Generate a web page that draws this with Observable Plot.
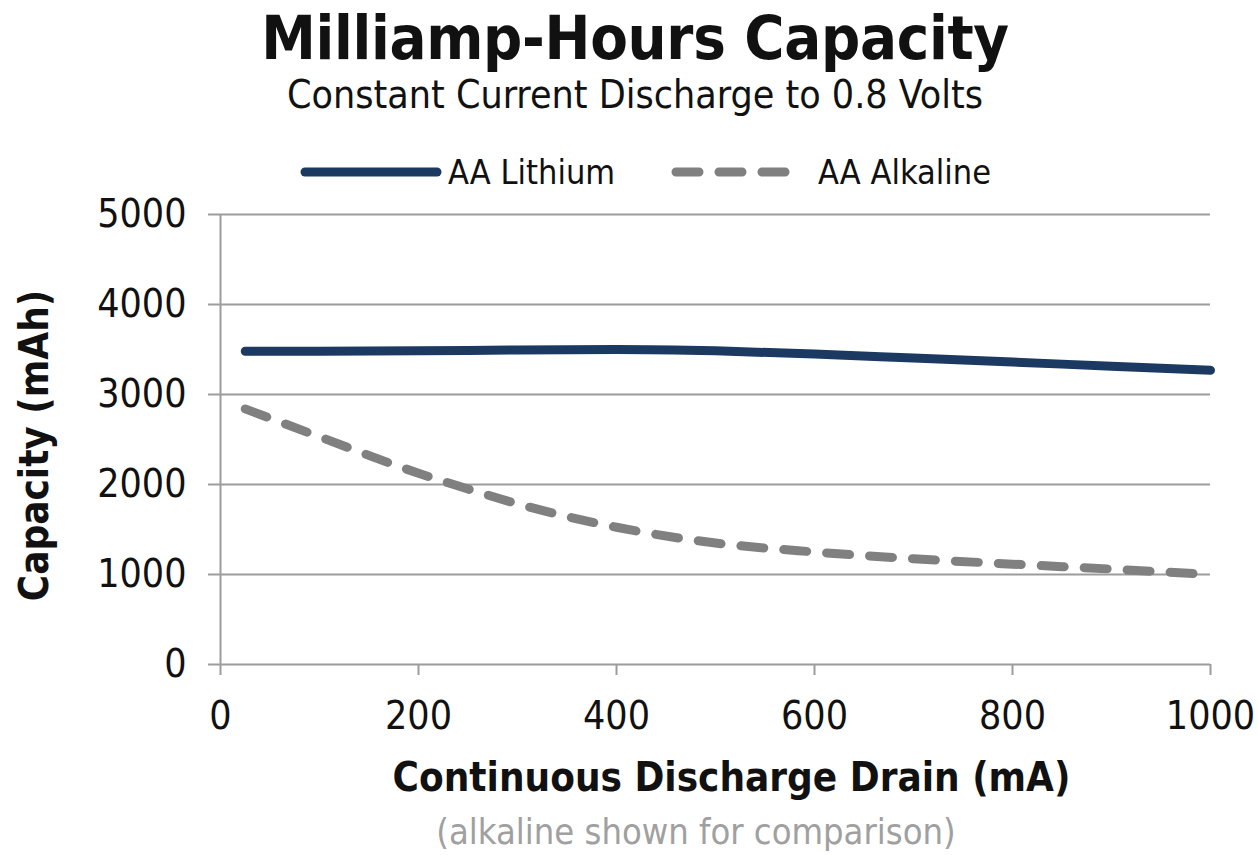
<!DOCTYPE html>
<html>
<head>
<meta charset="utf-8">
<script src="https://cdn.jsdelivr.net/npm/d3@7"></script>
<script src="https://cdn.jsdelivr.net/npm/@observablehq/plot@0.6"></script>
<style>
  html, body { margin: 0; padding: 0; background: #fff; }
  #wrap { position: relative; width: 1258px; height: 855px; overflow: hidden;
          font-family: "DejaVu Sans Condensed", "DejaVu Sans", sans-serif; font-stretch: condensed; color: #111; }
  .abs { position: absolute; white-space: nowrap; }
  #title { left: 6px; width: 1258px; top: 2px; text-align: center; font-weight: bold; font-size: 61px; line-height: 72px; letter-spacing: -0.3px; }
  #subtitle { left: 6px; width: 1258px; top: 72px; text-align: center; font-size: 39px; line-height: 46px; }
  .legtext { font-size: 34px; line-height: 40px; top: 152px; }
  #chart { left: 0; top: 200px; }
  #caption { left: 0; width: 1392px; top: 811px; text-align: center; font-size: 36px; line-height: 42px; color: #a0a0a0; }
</style>
</head>
<body>
<div id="wrap">
  <div id="title" class="abs">Milliamp-Hours Capacity</div>
  <div id="subtitle" class="abs">Constant Current Discharge to 0.8 Volts</div>
  <svg class="abs" style="left:296px;top:160px" width="150" height="24"><line x1="9" y1="12" x2="141" y2="12" stroke="#1c3962" stroke-width="9" stroke-linecap="round"/></svg>
  <div class="abs legtext" style="left:448px">AA Lithium</div>
  <svg class="abs" style="left:663px;top:160px" width="140" height="24"><line x1="13" y1="12" x2="130" y2="12" stroke="#808080" stroke-width="9" stroke-linecap="round" stroke-dasharray="23,20"/></svg>
  <div class="abs legtext" style="left:818px">AA Alkaline</div>
  <div id="chart" class="abs"></div>
  <div id="caption" class="abs">(alkaline shown for comparison)</div>
</div>
<script>
// Series data
const lithiumDrain = [25, 100, 200, 300, 400, 500, 600, 700, 800, 900, 1000];
const lithiumCapacity = [3480, 3480, 3485, 3495, 3500, 3485, 3450, 3405, 3360, 3315, 3270];
const alkalineDrain = [25, 100, 200, 250, 300, 400, 500, 600, 700, 800, 900, 1000];
const alkalineCapacity = [2840, 2530, 2125, 1950, 1785, 1525, 1350, 1250, 1175, 1115, 1060, 1000];
// Axis ticks
const xTicks = [0, 200, 400, 600, 800, 1000];
const yTicks = [0, 1000, 2000, 3000, 4000, 5000];
const seriesNames = ["AA Lithium", "AA Alkaline"];

const lithium = lithiumDrain.map((d, i) => ({drain: d, capacity: lithiumCapacity[i], series: seriesNames[0]}));
const alkaline = alkalineDrain.map((d, i) => ({drain: d, capacity: alkalineCapacity[i], series: seriesNames[1]}));

const grid = "#9c9c9c";
const chart = Plot.plot({
  width: 1258,
  height: 612,
  marginLeft: 220,
  marginRight: 48,
  marginTop: 14,
  marginBottom: 148,
  style: {fontFamily: '"DejaVu Sans Condensed", "DejaVu Sans", sans-serif', fontSize: "38px", color: "#111", background: "transparent", overflow: "visible"},
  x: {domain: [0, 1000]},
  y: {domain: [0, 5000]},
  marks: [
    Plot.ruleY(yTicks, {stroke: grid, strokeWidth: 2}),
    Plot.ruleX([0], {stroke: grid, strokeWidth: 2}),
    Plot.axisY({ticks: yTicks, tickSize: 12, tickPadding: 22, stroke: grid, strokeWidth: 2, fill: "#111", tickFormat: d => String(d), label: null, fontSize: 39}),
    Plot.axisX({ticks: xTicks, tickSize: 11, tickPadding: 26, stroke: grid, strokeWidth: 2, fill: "#111", tickFormat: d => String(d), label: null, fontSize: 39}),
    Plot.line(alkaline, {x: "drain", y: "capacity", stroke: "#808080", strokeWidth: 9, strokeDasharray: "23,20", strokeLinecap: "round", curve: "monotone-x"}),
    Plot.line(lithium, {x: "drain", y: "capacity", stroke: "#1c3962", strokeWidth: 9, strokeLinecap: "round", curve: "monotone-x"}),
    Plot.text(["Capacity (mAh)"], {frameAnchor: "left", textAnchor: "middle", rotate: -90, dx: -185, dy: 6, fontWeight: "bold", fontSize: 40, fill: "#111"}),
    Plot.text(["Continuous Discharge Drain (mA)"], {frameAnchor: "bottom", dx: 16, dy: 126, fontWeight: "bold", fontSize: 40, fill: "#111"})
  ]
});
document.getElementById("chart").appendChild(chart);
</script>
</body>
</html>
